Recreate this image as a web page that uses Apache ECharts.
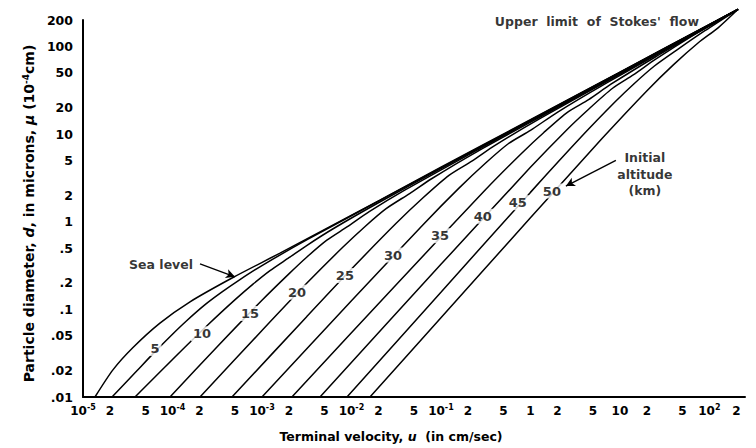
<!DOCTYPE html>
<html><head><meta charset="utf-8">
<script src="https://cdn.jsdelivr.net/npm/echarts@6/dist/echarts.min.js"></script>
<style>html,body{margin:0;padding:0;background:#fff}#c{width:756px;height:448px}</style>
</head><body><div id="c"></div>
<script>
// Tick values and labels
const xTickValues = [1e-5,2e-5,5e-5,1e-4,2e-4,5e-4,1e-3,2e-3,5e-3,1e-2,2e-2,5e-2,1e-1,2e-1,5e-1,1,2,5,10,20,50,100,200];
const xTickLabels = ['10{s|-5}','2','5','10{s|-4}','2','5','10{s|-3}','2','5','10{s|-2}','2','5','10{s|-1}','2','5','1','2','5','10','2','5','10{s|2}','2'];
const yTickValues = [0.01,0.02,0.05,0.1,0.2,0.5,1,2,5,10,20,50,100,200];
const yTickLabels = ['.01','.02','.05','.1','.2','.5','1','2','5','10','20','50','100','200'];

// Curves: [terminal velocity u (cm/sec), particle diameter d (microns)]
const seaLevel = [[1.36e-5,0.01],[2.16e-5,0.0204],[3.62e-5,0.0367],[7.24e-5,0.0697],[1.57e-4,0.122],[4.74e-4,0.231],[1.59e-3,0.438],[5.75e-3,0.88],[0.0208,1.76],[0.1,4.18],[1,14.6],[10,50.9],[100,178],[209,265]];
const km5  = [[2.11e-5,0.01],[3.98e-5,0.0198],[6.31e-5,0.0325],[1e-4,0.0521],[1.41e-4,0.0728],[2.26e-4,0.111],[3.55e-4,0.157],[5.62e-4,0.217],[1e-3,0.316],[3.16e-3,0.619],[0.0316,2.2],[1,14.4],[10,50.5],[100,177],[209,265]];
const km10 = [[3.81e-5,0.01],[1e-4,0.0268],[2.51e-4,0.0671],[5.01e-4,0.129],[7.94e-4,0.194],[1.23e-3,0.277],[2.0e-3,0.388],[3.16e-3,0.535],[6.31e-3,0.836],[0.02,1.644],[0.1,4.04],[1,14.2],[10,50.1],[100,176.6],[209,265]];
const km15 = [[9.38e-5,0.01],[3.16e-4,0.0375],[1e-3,0.127],[2e-3,0.254],[3.16e-3,0.393],[5.31e-3,0.615],[8.91e-3,0.871],[0.0158,1.303],[0.0398,2.307],[0.2,5.75],[1,14.03],[10,49.8],[100,176.2],[209,265]];
const km20 = [[2.03e-4,0.01],[1e-3,0.0573],[3.16e-3,0.198],[7.94e-3,0.507],[0.0141,0.877],[0.0244,1.409],[0.0447,2.094],[0.0794,3.11],[0.251,6.27],[1.585,17.6],[10,48.9],[100,175.4],[209,265]];
const km25 = [[4.62e-4,0.01],[3.16e-3,0.0824],[0.01,0.288],[0.0316,0.959],[0.0631,1.875],[0.124,3.40],[0.224,4.94],[0.398,7.36],[1.259,14.86],[10,48.0],[100,174.6],[209,265]];
const km30 = [[1e-3,0.01],[0.01,0.125],[0.0631,0.925],[0.158,2.40],[0.316,4.67],[0.570,7.80],[1,11.0],[2,17.7],[6.31,35.7],[31.6,89.9],[100,173],[209,265]];
const km35 = [[2.16e-3,0.01],[0.0316,0.191],[0.316,2.33],[0.794,6.01],[1.413,10.42],[2.61,17.8],[4.47,24.7],[7.94,37.0],[25.1,76.2],[100,172],[209,265]];
const km40 = [[4.45e-3,0.01],[0.1,0.326],[1,4.17],[2.51,11.0],[4.47,19.2],[8.28,33.3],[14.1,47.2],[25.1,71.4],[63.1,130],[126,196],[209,265]];
const km45 = [[8.91e-3,0.01],[0.1,0.157],[1,2.16],[3.98,10.05],[8.91,23.5],[14.1,36.8],[24.3,59.7],[44.7,93.1],[89.1,151],[209,265]];
const km50 = [[0.0161,0.01],[0.1,0.0802],[1,1.107],[6.31,8.87],[19.95,31.0],[39.8,61.9],[75.2,110],[126,164],[209,265]];

const curveNames = ['Sea level','5','10','15','20','25','30','35','40','45','50'];
const curves = [seaLevel,km5,km10,km15,km20,km25,km30,km35,km40,km45,km50];

// Altitude label anchors on curves [u, d]
const altLabels = ['5','10','15','20','25','30','35','40','45','50'];
const altLabelAt = [[6.37e-5,0.0358],[2.14e-4,0.0526],[7.35e-4,0.0897],[2.46e-3,0.157],[8.45e-3,0.243],[0.0291,0.416],[0.0975,0.692],[0.294,1.153],[0.724,1.648],[1.738,2.239]];

// Annotation anchors [u, d]
const noteText = ['Sea level', 'Initial\naltitude\n(km)', "Upper  limit  of  Stokes'  flow"];
const noteAt = [[7.45e-5,0.322],[19.0,3.5],[5.53,190]];
const arrows = [[[2.03e-4,0.330],[4.99e-4,0.235]], [[9.02,5.00],[2.49,2.55]]];

const FONT = 'DejaVu Sans';
const fmt = (vals, labs) => v => {
  for (let i = 0; i < vals.length; i++) if (Math.abs(Math.log10(v) - Math.log10(vals[i])) < 1e-6) return labs[i];
  return '';
};

const series = curves.map((c, i) => ({
  name: curveNames[i], type: 'line', data: c, showSymbol: false, symbol: 'none',
  smooth: 0.25, clip: false, silent: true,
  lineStyle: {color: '#000', width: 1.5}, z: 2
}));

series.push({
  type: 'scatter', name: 'altLabels', silent: true, clip: false, z: 5,
  symbolSize: 1, itemStyle: {color: 'rgba(0,0,0,0)'},
  data: altLabelAt.map((p, i) => ({value: p, label: {formatter: altLabels[i]}})),
  label: {show: true, position: 'inside', color: '#000', textBorderWidth: 0, fontFamily: FONT, fontSize: 13, fontWeight: 'bold',
          backgroundColor: '#fff', padding: [1, 2]}
});

series.push({
  type: 'scatter', name: 'notes', silent: true, clip: false, z: 5,
  symbolSize: 1, itemStyle: {color: 'rgba(0,0,0,0)'},
  data: noteAt.map((p, i) => ({value: p, label: {formatter: noteText[i]}})),
  label: {show: true, position: 'inside', color: '#000', textBorderWidth: 0, fontFamily: FONT, fontSize: 12.5, fontWeight: 'bold', lineHeight: 16.5, align: 'center'},
  markLine: {
    silent: true, symbol: ['none', 'arrow'], symbolSize: [7, 9],
    label: {show: false},
    lineStyle: {color: '#000', width: 1.4, type: 'solid', curveness: -0.2},
    data: arrows.map(a => [{coord: a[0]}, {coord: a[1]}])
  }
});

const chart = echarts.init(document.getElementById('c'), null, {renderer: 'svg'});
chart.setOption({
  animation: false,
  backgroundColor: '#fff',
  grid: {left: 83, right: 11, top: 20, bottom: 40},
  xAxis: {
    type: 'log', logBase: 10, min: 1e-5, max: 250,
    axisLine: {show: true, lineStyle: {color: '#000', width: 2}},
    axisTick: {show: false}, splitLine: {show: false}, minorTick: {show: false},
    axisLabel: {customValues: xTickValues, formatter: fmt(xTickValues, xTickLabels), interval: 0,
      color: '#000', fontFamily: FONT, fontSize: 12, fontWeight: 'bold', margin: 6, lineHeight: 16,
      rich: {s: {fontSize: 8, fontWeight: 'bold', fontFamily: FONT, color: '#000', verticalAlign: 'top', lineHeight: 16}}},
    name: 'Terminal velocity, {i|u}  (in cm/sec)', nameLocation: 'middle', nameGap: 33,
    nameTextStyle: {color: '#000', fontFamily: FONT, fontSize: 12.5, fontWeight: 'bold', padding: [0, 46, 0, 0],
      rich: {i: {fontStyle: 'italic', fontFamily: FONT, fontSize: 12.5, fontWeight: 'bold'}}}
  },
  yAxis: {
    type: 'log', logBase: 10, min: 0.01, max: 200,
    axisLine: {show: true, lineStyle: {color: '#000', width: 2}},
    axisTick: {show: false}, splitLine: {show: false}, minorTick: {show: false},
    axisLabel: {customValues: yTickValues, formatter: fmt(yTickValues, yTickLabels), interval: 0,
      color: '#000', fontFamily: FONT, fontSize: 12.5, fontWeight: 'bold', margin: 10},
    name: 'Particle diameter, {i|d}, in microns, {i|μ} (10{s|-4}cm)', nameLocation: 'middle', nameGap: 42, nameRotate: 90,
    nameTextStyle: {color: '#000', fontFamily: FONT, fontSize: 14, fontWeight: 'bold', padding: [0, 10, 0, 0],
      rich: {i: {fontStyle: 'italic', fontFamily: FONT, fontSize: 14, fontWeight: 'bold'},
             s: {fontSize: 9, fontFamily: FONT, fontWeight: 'bold', verticalAlign: 'top', lineHeight: 16}}}
  },
  series: series
});
</script></body></html>
